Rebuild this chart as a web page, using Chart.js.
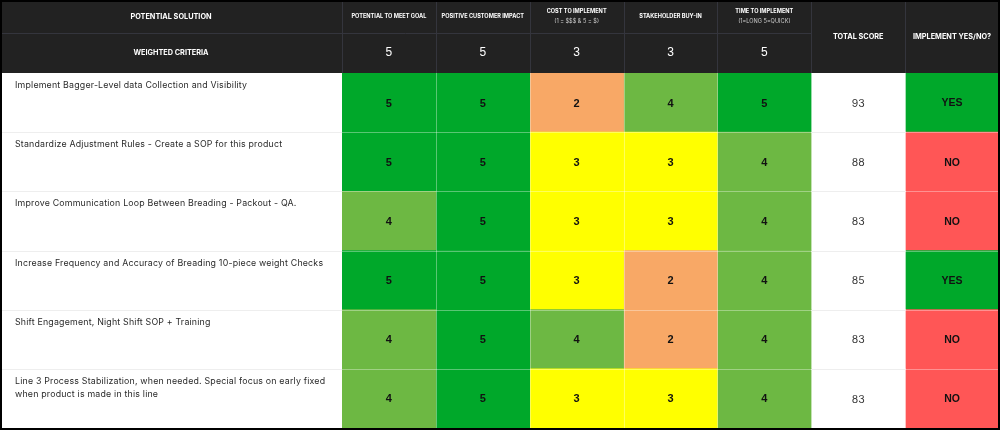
<!DOCTYPE html>
<html>
<head>
<meta charset="utf-8">
<title>Potential solution scoring</title>
<script src="https://cdn.jsdelivr.net/npm/chart.js@4.4.1/dist/chart.umd.min.js"></script>
<style>
    html, body { margin: 0; padding: 0; background: #ffffff; }
    #scoreChart { display: block; }
</style>
</head>
<body>
<canvas id="scoreChart" width="1000" height="430"></canvas>
<script>
// table content
const solutions = [
    ['Implement Bagger-Level data Collection and Visibility'],
    ['Standardize Adjustment Rules - Create a SOP for this product'],
    ['Improve Communication Loop Between Breading - Packout - QA.'],
    ['Increase Frequency and Accuracy of Breading 10-piece weight Checks'],
    ['Shift Engagement, Night Shift SOP + Training'],
    ['Line 3 Process Stabilization, when needed. Special focus on early fixed', 'when product is made in this line']
];
const criteria = ['POTENTIAL TO MEET GOAL', 'POSITIVE CUSTOMER IMPACT', 'COST TO IMPLEMENT', 'STAKEHOLDER BUY-IN', 'TIME TO IMPLEMENT'];
const criteriaNotes = ['', '', '(1 = $$$ & 5 = $)', '', '(1=LONG 5=QUICK)'];
const criteriaWeights = [5, 5, 3, 3, 5];

const potentialToMeetGoal = [5, 5, 4, 5, 4, 4];
const positiveCustomerImpact = [5, 5, 5, 5, 5, 5];
const costToImplement = [2, 3, 3, 3, 4, 3];
const stakeholderBuyIn = [4, 3, 3, 2, 2, 3];
const timeToImplement = [5, 4, 4, 4, 4, 4];
const totalScore = [93, 88, 83, 85, 83, 83];
const implementDecision = ['YES', 'NO', 'NO', 'YES', 'NO', 'NO'];

// colours
const scoreColors = { 5: '#00a82a', 4: '#6db843', 3: '#ffff00', 2: '#f8a866' };
const decisionColors = { YES: '#00a82a', NO: '#ff5656' };
const headerColor = '#222222';
const headerLine = '#34353d';

const scoreColumns = [potentialToMeetGoal, positiveCustomerImpact, costToImplement, stakeholderBuyIn, timeToImplement];

// one dataset per table column, each cell a floating bar spanning its column
function buildDatasets() {
    let datasets = [];
    scoreColumns.forEach((scores, c) => {
        datasets.push({
            label: criteria[c],
            data: scores.map(() => [c, c + 1]),
            cellText: scores.map(s => String(s)),
            backgroundColor: scores.map(s => scoreColors[s])
        });
    });
    datasets.push({
        label: 'TOTAL SCORE',
        data: totalScore.map(() => [5, 6]),
        cellText: totalScore.map(t => String(t)),
        backgroundColor: '#ffffff'
    });
    datasets.push({
        label: 'IMPLEMENT YES/NO?',
        data: implementDecision.map(() => [6, 7]),
        cellText: implementDecision,
        backgroundColor: implementDecision.map(d => decisionColors[d])
    });
    return datasets;
}

// draws header, first column, cell texts and separators
const tableDecor = {
    id: 'tableDecor',
    beforeDraw(chart) {
        const { ctx, chartArea } = chart;
        ctx.save();
        ctx.fillStyle = '#ffffff';
        ctx.fillRect(0, 0, chart.width, chart.height);
        ctx.fillStyle = headerColor;
        ctx.fillRect(0, 0, chart.width, chartArea.top);
        ctx.restore();
    },
    afterDatasetsDraw(chart) {
        const { ctx, chartArea, scales: { x } } = chart;
        const rows = chart.getDatasetMeta(0).data;
        const split = 33;
        const top = chartArea.top;

        ctx.save();

        // separators between body rows
        rows.forEach((el, i) => {
            if (i === 0) return;
            const yy = Math.round(el.y - el.height / 2) + 0.5;
            ctx.lineWidth = 1;
            ctx.strokeStyle = '#eeeeee';
            ctx.beginPath();
            ctx.moveTo(2, yy);
            ctx.lineTo(chartArea.left, yy);
            ctx.moveTo(x.getPixelForValue(5), yy);
            ctx.lineTo(x.getPixelForValue(6), yy);
            ctx.stroke();
            ctx.strokeStyle = 'rgba(255,255,255,0.35)';
            ctx.beginPath();
            ctx.moveTo(chartArea.left, yy);
            ctx.lineTo(x.getPixelForValue(5), yy);
            ctx.moveTo(x.getPixelForValue(6), yy);
            ctx.lineTo(chartArea.right, yy);
            ctx.stroke();
        });
        // separators between coloured columns
        ctx.strokeStyle = 'rgba(255,255,255,0.35)';
        ctx.beginPath();
        for (let c = 1; c <= 6; c++) {
            const xx = Math.round(x.getPixelForValue(c)) + 0.5;
            ctx.moveTo(xx, top);
            ctx.lineTo(xx, chartArea.bottom);
        }
        ctx.stroke();

        // header grid
        ctx.strokeStyle = headerLine;
        ctx.beginPath();
        for (let c = 0; c <= 6; c++) {
            const xx = Math.round(x.getPixelForValue(c)) + 0.5;
            ctx.moveTo(xx, 0);
            ctx.lineTo(xx, top);
        }
        ctx.moveTo(0, split + 0.5);
        ctx.lineTo(x.getPixelForValue(5), split + 0.5);
        ctx.stroke();

        // header texts
        ctx.textAlign = 'center';
        ctx.textBaseline = 'middle';
        ctx.fillStyle = '#ffffff';
        ctx.font = 'bold 7.3px Inter, "Noto Sans", sans-serif';
        ctx.fillText('POTENTIAL SOLUTION', chartArea.left / 2, split / 2);
        ctx.fillText('WEIGHTED CRITERIA', chartArea.left / 2, (split + top) / 2 - 0.5);
        criteria.forEach((name, c) => {
            const cx = x.getPixelForValue(c + 0.5);
            ctx.fillStyle = '#ffffff';
            ctx.font = 'bold 5.6px Inter, "Noto Sans", sans-serif';
            if (criteriaNotes[c]) {
                ctx.fillText(name, cx, 11);
                ctx.fillStyle = '#d0d0d0';
                ctx.font = '5.6px Inter, "Noto Sans", sans-serif';
                ctx.fillText(criteriaNotes[c], cx, 21);
            } else {
                ctx.fillText(name, cx, 16);
            }
            ctx.fillStyle = '#ffffff';
            ctx.font = '12px "Liberation Sans", Arial, sans-serif';
            ctx.fillText(String(criteriaWeights[c]), cx, (split + top) / 2);
        });
        ctx.font = 'bold 7.3px Inter, "Noto Sans", sans-serif';
        ctx.fillText('TOTAL SCORE', x.getPixelForValue(5.5), top / 2);
        ctx.fillText('IMPLEMENT YES/NO?', x.getPixelForValue(6.5), top / 2);

        // solution names in the first column, top aligned
        ctx.textAlign = 'left';
        ctx.fillStyle = '#2a2a2a';
        ctx.font = '8.8px Inter, "Noto Sans", sans-serif';
        ctx.letterSpacing = '0.2px';
        rows.forEach((el, i) => {
            const rowTop = el.y - el.height / 2;
            solutions[i].forEach((line, k) => {
                ctx.fillText(line, 15, rowTop + 12.5 + k * 13);
            });
        });
        ctx.letterSpacing = '0px';

        // cell values
        ctx.textAlign = 'center';
        chart.data.datasets.forEach((ds, d) => {
            const meta = chart.getDatasetMeta(d);
            meta.data.forEach((el, i) => {
                const cx = (el.x + el.base) / 2;
                if (d === 5) {
                    ctx.fillStyle = '#333333';
                    ctx.font = '10.5px Inter, "Noto Sans", sans-serif';
                } else if (d === 6) {
                    ctx.fillStyle = '#111111';
                    ctx.font = 'bold 10.5px "Liberation Sans", Arial, sans-serif';
                } else {
                    ctx.fillStyle = '#111111';
                    ctx.font = 'bold 11px "Liberation Sans", Arial, sans-serif';
                }
                ctx.fillText(ds.cellText[i], cx, el.y + 1);
            });
        });

        ctx.restore();
    },
    afterDraw(chart) {
        // black frame round the table
        const ctx = chart.ctx;
        ctx.save();
        ctx.strokeStyle = '#000000';
        ctx.lineWidth = 2;
        ctx.strokeRect(1, 1, chart.width - 2, chart.height - 2);
        ctx.restore();
    }
};

new Chart(document.getElementById('scoreChart').getContext('2d'), {
    type: 'bar',
    data: {
        labels: solutions.map(s => s.join(' ')),
        datasets: buildDatasets()
    },
    options: {
        indexAxis: 'y',
        responsive: false,
        animation: false,
        devicePixelRatio: 1,
        categoryPercentage: 1,
        barPercentage: 1,
        borderWidth: 0,
        layout: { padding: { left: 342, top: 73, right: 1, bottom: 2 } },
        scales: {
            x: { type: 'linear', min: 0, max: 7, display: false },
            y: { type: 'category', stacked: true, display: false }
        },
        plugins: {
            legend: { display: false },
            tooltip: { enabled: false }
        }
    },
    plugins: [tableDecor]
});
</script>
</body>
</html>
